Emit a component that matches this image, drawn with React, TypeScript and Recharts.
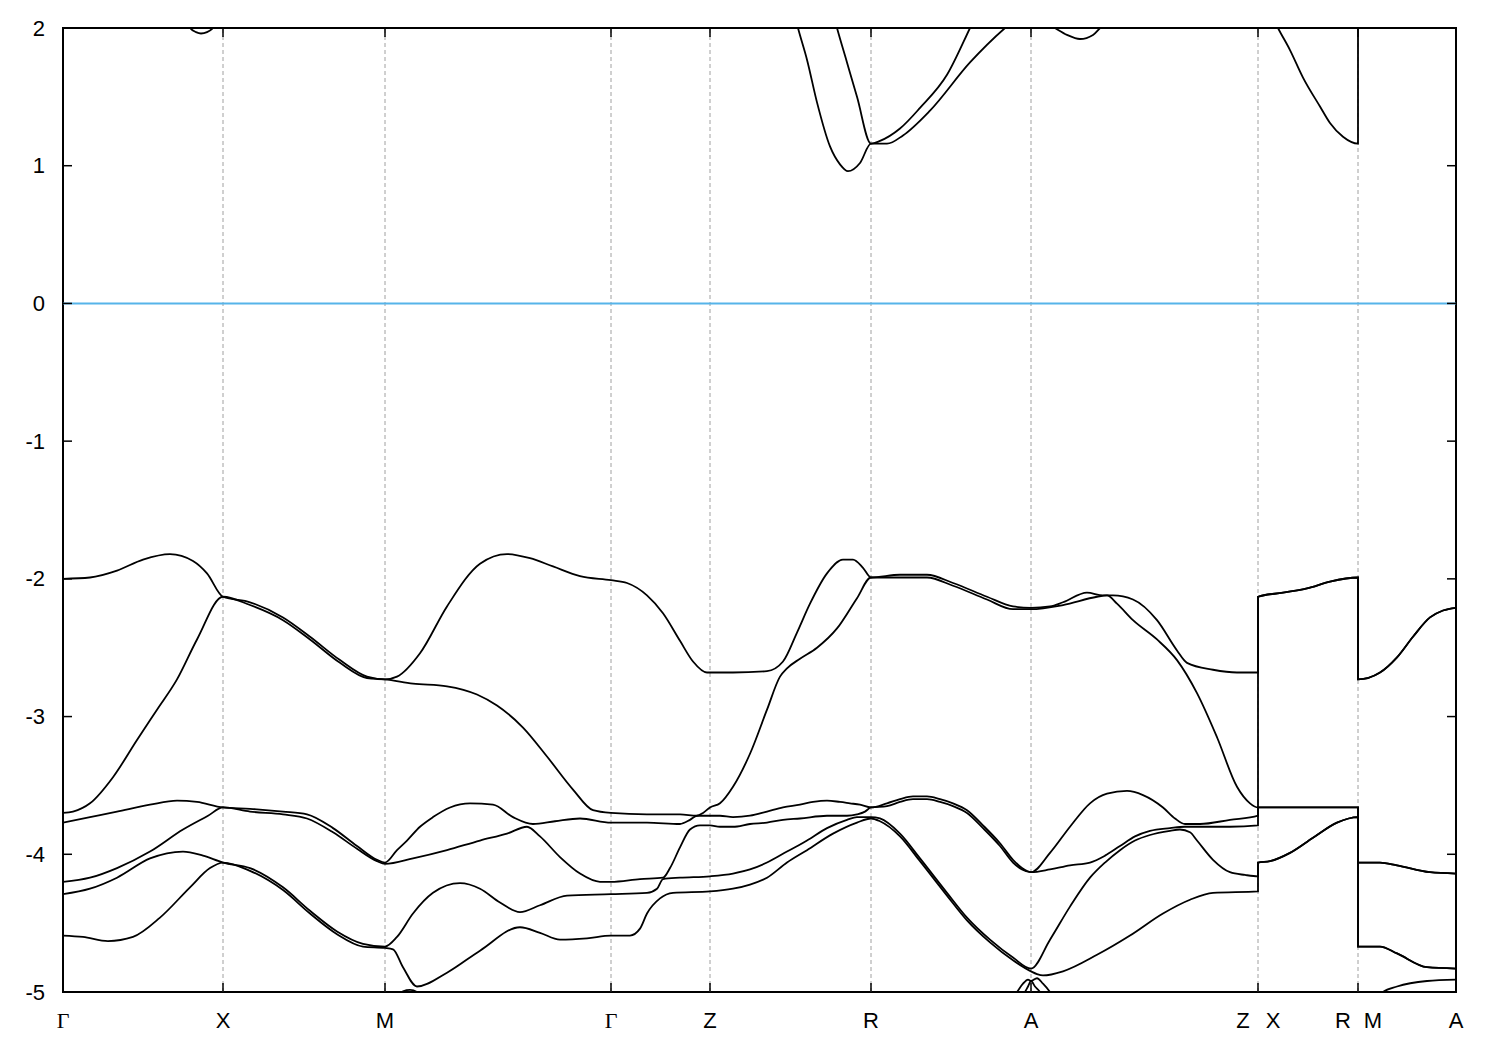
import React from "react";
import { LineChart, Line, XAxis, YAxis, ReferenceLine, ReferenceArea } from "recharts";

type Pt = [number, number];

// k-path positions of the high-symmetry points and their labels
const kTicks = [0, 160, 322, 548, 647, 808, 968, 1195, 1295, 1393];
const kLabels = ["Γ", "X", "M", "Γ", "Z", "R", "A", "Z X", "R M", "A"];
const energyTicks = [-5, -4, -3, -2, -1, 0, 1, 2];

// valence bands, highest first: [k, E (eV)]
const band1: Pt[] = [
  [0, -2.0], [27, -1.99], [54, -1.94], [80, -1.86], [107, -1.82], [130, -1.87], [144, -1.96], [160, -2.13],
  [187, -2.17], [220, -2.28], [247, -2.42], [277, -2.59], [304, -2.71], [322, -2.73],
  [334, -2.71], [357, -2.54], [384, -2.2], [417, -1.89], [444, -1.82], [467, -1.85], [490, -1.91], [517, -1.98], [548, -2.01],
  [564, -2.03], [584, -2.12], [600, -2.25], [617, -2.45], [630, -2.6], [644, -2.68], [647, -2.68],
  [670, -2.68], [704, -2.67], [720, -2.6], [734, -2.39], [747, -2.18], [764, -1.96], [780, -1.86], [790, -1.86], [800, -1.92], [808, -1.99],
  [837, -1.97], [864, -1.97], [890, -2.03], [924, -2.13], [950, -2.2], [968, -2.21],
  [987, -2.2], [1000, -2.17], [1024, -2.1], [1040, -2.12], [1050, -2.12], [1070, -2.15], [1094, -2.3], [1114, -2.52], [1124, -2.61], [1150, -2.66], [1174, -2.68], [1195, -2.68],
  [1195, -2.13], [1220, -2.1], [1244, -2.07], [1267, -2.02], [1295, -1.99],
  [1295, -2.73], [1317, -2.68], [1334, -2.57], [1350, -2.42], [1367, -2.28], [1380, -2.23], [1393, -2.21],
];

const band2: Pt[] = [
  [0, -3.7], [10, -3.69], [27, -3.63], [50, -3.44], [74, -3.17], [94, -2.95], [114, -2.73], [134, -2.44], [160, -2.13],
  [187, -2.19], [220, -2.3], [247, -2.44], [277, -2.61], [304, -2.72], [322, -2.73],
  [350, -2.76], [384, -2.78], [414, -2.84], [434, -2.92], [460, -3.08], [484, -3.29], [510, -3.53], [530, -3.68], [548, -3.7],
  [584, -3.71], [617, -3.71], [634, -3.72], [640, -3.7], [647, -3.66],
  [657, -3.63], [670, -3.51], [687, -3.27], [704, -2.95], [717, -2.71], [724, -2.65], [737, -2.58], [754, -2.5], [774, -2.36], [794, -2.14], [808, -1.99],
  [837, -1.99], [864, -1.99], [890, -2.05], [924, -2.15], [950, -2.22], [968, -2.22],
  [1000, -2.19], [1034, -2.13], [1044, -2.12], [1054, -2.18], [1070, -2.3], [1094, -2.44], [1114, -2.59], [1134, -2.83], [1154, -3.15], [1174, -3.51], [1187, -3.63], [1195, -3.66],
  [1195, -2.13], [1220, -2.1], [1244, -2.07], [1267, -2.02], [1295, -1.99],
  [1295, -2.73], [1317, -2.68], [1334, -2.57], [1350, -2.42], [1367, -2.28], [1380, -2.23], [1393, -2.21],
];

const band3: Pt[] = [
  [0, -3.77], [27, -3.73], [54, -3.69], [87, -3.64], [114, -3.61], [134, -3.62], [160, -3.66],
  [187, -3.67], [220, -3.69], [244, -3.71], [270, -3.81], [294, -3.94], [314, -4.04], [322, -4.06],
  [334, -3.97], [344, -3.9], [357, -3.8], [370, -3.73], [387, -3.66], [407, -3.63], [430, -3.64], [450, -3.73], [470, -3.78], [492, -3.76], [517, -3.74], [548, -3.77],
  [584, -3.77], [617, -3.78], [627, -3.75], [634, -3.72], [647, -3.72],
  [657, -3.72], [670, -3.73], [687, -3.72], [704, -3.69], [720, -3.66], [737, -3.64], [750, -3.62], [764, -3.61], [777, -3.62], [787, -3.63], [797, -3.64], [808, -3.66],
  [824, -3.63], [837, -3.6], [850, -3.58], [864, -3.58], [877, -3.6], [890, -3.63], [904, -3.68], [920, -3.79], [937, -3.92], [950, -4.04], [959, -4.1], [968, -4.13],
  [987, -3.99], [1007, -3.8], [1027, -3.63], [1044, -3.56], [1064, -3.54], [1080, -3.57], [1100, -3.66], [1112, -3.74], [1122, -3.78], [1137, -3.78], [1167, -3.75], [1195, -3.72],
  [1195, -3.66], [1245, -3.66], [1295, -3.66],
  [1295, -4.06], [1317, -4.06], [1334, -4.08], [1367, -4.13], [1393, -4.14],
];

const band4: Pt[] = [
  [0, -4.2], [27, -4.17], [54, -4.1], [87, -3.98], [120, -3.82], [145, -3.72], [160, -3.66],
  [187, -3.69], [220, -3.71], [244, -3.74], [270, -3.84], [294, -3.96], [314, -4.05], [322, -4.07],
  [350, -4.03], [384, -3.97], [417, -3.9], [444, -3.85], [464, -3.8], [477, -3.87], [497, -4.02], [517, -4.14], [537, -4.2], [548, -4.2],
  [577, -4.18], [600, -4.17], [607, -4.1], [617, -3.95], [627, -3.82], [637, -3.79], [647, -3.79],
  [657, -3.8], [670, -3.8], [687, -3.78], [704, -3.77], [720, -3.75], [737, -3.74], [764, -3.72], [784, -3.72], [794, -3.71], [802, -3.69], [808, -3.66],
  [824, -3.65], [837, -3.62], [850, -3.6], [864, -3.6], [877, -3.62], [890, -3.65], [904, -3.7], [920, -3.81], [937, -3.94], [950, -4.06], [959, -4.11], [968, -4.13],
  [987, -4.11], [1007, -4.08], [1027, -4.06], [1042, -4.01], [1057, -3.94], [1072, -3.87], [1087, -3.83], [1107, -3.81], [1122, -3.8], [1137, -3.8], [1167, -3.8], [1195, -3.79],
  [1195, -3.66], [1245, -3.66], [1295, -3.66],
  [1295, -4.06], [1317, -4.06], [1334, -4.08], [1367, -4.13], [1393, -4.14],
];

const band5: Pt[] = [
  [0, -4.29], [27, -4.25], [54, -4.17], [87, -4.03], [120, -3.98], [140, -4.01], [160, -4.06],
  [187, -4.1], [220, -4.24], [247, -4.41], [274, -4.56], [300, -4.65], [322, -4.67],
  [334, -4.6], [350, -4.43], [370, -4.28], [397, -4.21], [417, -4.25], [437, -4.35], [457, -4.42], [477, -4.37], [504, -4.3], [548, -4.29],
  [584, -4.28], [594, -4.25], [600, -4.18], [617, -4.17], [647, -4.16],
  [670, -4.14], [687, -4.11], [704, -4.06], [724, -3.98], [744, -3.9], [764, -3.81], [784, -3.75], [794, -3.73], [808, -3.73],
  [817, -3.74], [837, -3.85], [857, -4.03], [884, -4.28], [904, -4.46], [927, -4.62], [950, -4.75], [968, -4.83],
  [987, -4.62], [1007, -4.38], [1027, -4.17], [1042, -4.06], [1057, -3.97], [1072, -3.9], [1087, -3.86], [1107, -3.83], [1117, -3.82], [1127, -3.84], [1134, -3.9], [1150, -4.04], [1167, -4.13], [1182, -4.15], [1195, -4.16],
  [1195, -4.06], [1207, -4.05], [1227, -3.99], [1250, -3.88], [1274, -3.77], [1295, -3.73],
  [1295, -4.67], [1317, -4.67], [1334, -4.72], [1364, -4.82], [1393, -4.83],
];

const band6: Pt[] = [
  [0, -4.59], [20, -4.6], [45, -4.63], [70, -4.6], [97, -4.46], [127, -4.24], [147, -4.1], [160, -4.06],
  [187, -4.12], [220, -4.26], [247, -4.43], [274, -4.58], [300, -4.67], [322, -4.68],
  [330, -4.69], [340, -4.82], [354, -4.96], [384, -4.86], [417, -4.7], [457, -4.53], [477, -4.57], [497, -4.62], [524, -4.61], [548, -4.59],
  [567, -4.59], [577, -4.54], [584, -4.43], [597, -4.32], [610, -4.28], [647, -4.27],
  [670, -4.25], [687, -4.22], [704, -4.17], [724, -4.06], [744, -3.97], [770, -3.85], [794, -3.77], [808, -3.74],
  [817, -3.76], [837, -3.87], [857, -4.05], [884, -4.3], [904, -4.48], [927, -4.64], [950, -4.77], [968, -4.85],
  [974, -4.87], [980, -4.88], [1000, -4.85], [1034, -4.73], [1067, -4.59], [1100, -4.43], [1127, -4.33], [1150, -4.28], [1195, -4.27],
  [1195, -4.06], [1207, -4.05], [1227, -3.99], [1250, -3.88], [1274, -3.77], [1295, -3.73],
  [1295, -4.67], [1317, -4.67], [1334, -4.72], [1364, -4.82], [1393, -4.83],
];

const band7: Pt[] = [
  [0, -5.6], [160, -5.4], [300, -5.25], [322, -5.2], [334, -5.06], [340, -4.995], [347, -4.985], [354, -5.0], [362, -5.08], [380, -5.25],
  [548, -5.6], [647, -5.5], [808, -5.4], [930, -5.2], [954, -5.0], [960, -4.94], [965, -4.91], [968, -4.92], [974, -4.9], [980, -4.94], [987, -5.0], [1000, -5.15],
  [1195, -5.5], [1295, -5.3], [1310, -5.1], [1320, -5.0], [1334, -4.96], [1364, -4.92], [1393, -4.91],
];

const band8: Pt[] = [
  [900, -5.6], [950, -5.2], [962, -5.0], [965, -4.96], [968, -4.92], [972, -4.96], [977, -5.0], [990, -5.2], [1050, -5.6],
];

// conduction bands
const cband1: Pt[] = [
  [0, 2.8], [80, 2.5], [120, 2.1], [127, 2.0], [133, 1.97], [138, 1.96], [144, 1.97], [150, 2.0], [160, 2.1], [240, 2.6], [322, 2.9],
  [548, 3.2], [647, 2.8], [725, 2.3], [735, 2.0], [744, 1.77], [754, 1.46], [767, 1.14], [777, 1.01], [785, 0.96], [797, 1.02], [808, 1.16],
  [824, 1.16], [840, 1.22], [867, 1.4], [907, 1.75], [942, 2.0], [968, 2.15],
  [985, 2.03], [992, 2.0], [1004, 1.95], [1017, 1.92], [1030, 1.95], [1037, 2.0], [1050, 2.1], [1195, 2.6],
  [1207, 2.12], [1215, 2.0], [1227, 1.84], [1240, 1.64], [1257, 1.43], [1267, 1.31], [1280, 1.21], [1295, 1.16],
  [1295, 2.6], [1393, 2.8],
];

const cband2: Pt[] = [
  [0, 3.3], [647, 3.2], [750, 2.6], [765, 2.25], [774, 2.0], [784, 1.75], [794, 1.5], [808, 1.16],
  [817, 1.18], [837, 1.27], [857, 1.42], [884, 1.66], [907, 2.0], [920, 2.2], [968, 2.6], [1195, 3.0], [1393, 3.2],
];

const bands = [band1, band2, band3, band4, band5, band6, band7, band8, cband1, cband2];

const K_MAX = 1393;
const E_MIN = -5;
const E_MAX = 2;
const TICK_K = 9;
const TICK_E = 0.065;

const sansFont = "'Liberation Sans', Arial, sans-serif";
const serifFont = "'Liberation Serif', 'Times New Roman', serif";

const toRows = (pts: Pt[]) => pts.map(([k, e]) => ({ k, e }));

function KTick({ x, y, payload }: any) {
  const label = kLabels[kTicks.indexOf(payload.value)] ?? "";
  const parts = label.split(" ");
  const draw = (s: string, cx: number, key: number) => (
    <text
      key={key}
      x={cx}
      y={y}
      textAnchor="middle"
      dominantBaseline="central"
      fontSize={22}
      fontFamily={s === "Γ" ? serifFont : sansFont}
      fill="#000"
    >
      {s}
    </text>
  );
  if (parts.length === 2) {
    return <g>{[draw(parts[0], x - 15, 0), draw(parts[1], x + 15, 1)]}</g>;
  }
  return <g>{draw(label, x, 0)}</g>;
}

function ETick({ x, y, payload }: any) {
  return (
    <text x={x} y={y} textAnchor="end" dominantBaseline="central" fontSize={22} fontFamily={sansFont} fill="#000">
      {payload.value}
    </text>
  );
}

export default function App() {
  return (
    <div style={{ position: "absolute", left: 0, top: 0, background: "#fff" }}>
      <LineChart width={1500} height={1050} margin={{ top: 28, right: 44, bottom: 0, left: 0 }}>
        <XAxis
          type="number"
          dataKey="k"
          domain={[0, K_MAX]}
          ticks={kTicks}
          interval={0}
          height={58}
          axisLine={false}
          tickLine={false}
          tickSize={0}
          tickMargin={28}
          tick={<KTick />}
          allowDataOverflow
        />
        <YAxis
          type="number"
          domain={[E_MIN, E_MAX]}
          ticks={energyTicks}
          interval={0}
          width={63}
          axisLine={false}
          tickLine={false}
          tickSize={0}
          tickMargin={18}
          tick={<ETick />}
          allowDataOverflow
        />
        {kTicks.slice(1, -1).map((k) => (
          <ReferenceLine key={`v-${k}`} x={k} stroke="#a0a0a0" strokeDasharray="4 3" strokeWidth={1} />
        ))}
        <ReferenceLine y={0} stroke="#56b4e9" strokeWidth={2} />
        {bands.map((b, i) => (
          <Line
            key={`band-${i}`}
            data={toRows(b)}
            dataKey="e"
            type="monotone"
            stroke="#000"
            strokeWidth={1.8}
            dot={false}
            activeDot={false}
            isAnimationActive={false}
          />
        ))}
        {energyTicks.map((e) => (
          <ReferenceLine key={`yl-${e}`} segment={[{ x: 0, y: e }, { x: TICK_K, y: e }]} stroke="#000" strokeWidth={1.5} />
        ))}
        {energyTicks.map((e) => (
          <ReferenceLine key={`yr-${e}`} segment={[{ x: K_MAX - TICK_K, y: e }, { x: K_MAX, y: e }]} stroke="#000" strokeWidth={1.5} />
        ))}
        {kTicks.map((k) => (
          <ReferenceLine key={`xb-${k}`} segment={[{ x: k, y: E_MIN }, { x: k, y: E_MIN + TICK_E }]} stroke="#000" strokeWidth={1.5} />
        ))}
        {kTicks.map((k) => (
          <ReferenceLine key={`xt-${k}`} segment={[{ x: k, y: E_MAX }, { x: k, y: E_MAX - TICK_E }]} stroke="#000" strokeWidth={1.5} />
        ))}
        <ReferenceArea x1={0} x2={K_MAX} y1={E_MIN} y2={E_MAX} fill="none" stroke="#000" strokeWidth={2} />
      </LineChart>
    </div>
  );
}
